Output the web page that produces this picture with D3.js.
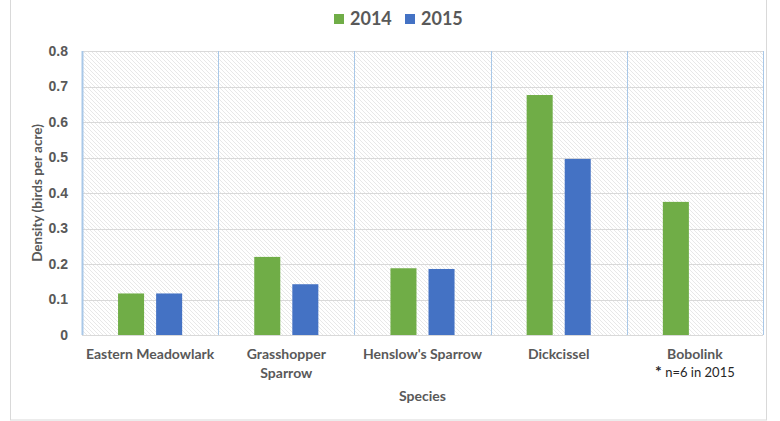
<!DOCTYPE html>
<html><head><meta charset="utf-8">
<script src="https://cdn.jsdelivr.net/npm/d3@7/dist/d3.min.js"></script>
<style>body{margin:0;background:#fff;}svg{display:block;font-family:Lato,"Open Sans",sans-serif;}</style>
</head><body>
<script>
const categories = ["Eastern Meadowlark", "Grasshopper Sparrow", "Henslow's Sparrow", "Dickcissel", "Bobolink"];
const categoryLines = [["Eastern Meadowlark"], ["Grasshopper", "Sparrow"], ["Henslow's Sparrow"], ["Dickcissel"], ["Bobolink"]];
const seriesNames = ["2014", "2015"];
const values2014 = [0.117, 0.220, 0.188, 0.676, 0.375];
const values2015 = [0.117, 0.143, 0.186, 0.496, null];
const yTicks = [0, 0.1, 0.2, 0.3, 0.4, 0.5, 0.6, 0.7, 0.8];
const colors = ["#70ad47", "#4472c4"];

const W = 780, H = 421;
const m = {left: 82, right: 17, top: 51, bottom: 86};
const svg = d3.select("body").append("svg").attr("width", W).attr("height", H);

const defs = svg.append("defs");
const pat = defs.append("pattern").attr("id","hatch").attr("patternUnits","userSpaceOnUse")
  .attr("width",4).attr("height",4);
pat.append("rect").attr("width",4).attr("height",4).attr("fill","#ffffff");
pat.append("path").attr("d","M-1,-1 L5,5 M-1,3 L1,5 M3,-1 L5,1").attr("stroke","#e8e8e8").attr("stroke-width",1);

// outer border
svg.append("rect").attr("x",10.5).attr("y",-1).attr("width",756).attr("height",421)
  .attr("fill","none").attr("stroke","#d9d9d9");

const x = d3.scaleBand().domain(categories).range([m.left, W - m.right]);
const y = d3.scaleLinear().domain([0, 0.8]).range([H - m.bottom, m.top]);
const xs = d3.scaleBand().domain(seriesNames).range([0, x.bandwidth()]).paddingInner(0.316).paddingOuter(0.947);

svg.append("rect").attr("x", m.left).attr("y", m.top).attr("width", W - m.right - m.left)
  .attr("height", H - m.bottom - m.top).attr("fill","url(#hatch)");

// horizontal grid
svg.append("g").selectAll("line").data(yTicks.filter(d=>d>0)).join("line")
  .attr("x1", m.left).attr("x2", W - m.right)
  .attr("y1", d=>Math.round(y(d))+0.5).attr("y2", d=>Math.round(y(d))+0.5)
  .attr("stroke","#d9d9d9").attr("stroke-width",1);

// vertical separators
const seps = categories.map(c=>x(c)).concat([W - m.right]);
svg.append("g").selectAll("line").data(seps).join("line")
  .attr("x1", d=>Math.round(d)+0.5).attr("x2", d=>Math.round(d)+0.5)
  .attr("y1", m.top).attr("y2", H - m.bottom)
  .attr("stroke","#a9c8e8").attr("stroke-width",(d,i)=> i===0 ? 2 : 1);

// bars
const series = [values2014, values2015];
series.forEach((vals, si) => {
  svg.append("g").selectAll("rect").data(categories.map((c,i)=>({c, v: vals[i]})).filter(d=>d.v!=null))
    .join("rect")
    .attr("x", d => x(d.c) + xs(seriesNames[si]))
    .attr("width", xs.bandwidth())
    .attr("y", d => y(d.v))
    .attr("height", d => y(0) - y(d.v))
    .attr("fill", colors[si]);
});

// baseline
svg.append("line").attr("x1", m.left).attr("x2", W - m.right)
  .attr("y1", Math.round(y(0))+0.5).attr("y2", Math.round(y(0))+0.5).attr("stroke","#d9d9d9");

// y axis
const yAxis = d3.axisLeft(y).tickValues(yTicks).tickFormat(d => d===0 ? "0" : d3.format(".1f")(d)).tickSize(0).tickPadding(14);
const ya = svg.append("g").attr("transform",`translate(${m.left},0)`).call(yAxis);
ya.select(".domain").remove();
ya.selectAll("text").attr("fill","#595959").attr("font-size","14px").attr("font-weight","bold");

// x labels
const xl = svg.append("g");
categories.forEach((c,i) => {
  const t = xl.append("text").attr("x", x(c) + x.bandwidth()/2).attr("y", 359)
    .attr("text-anchor","middle").attr("fill","#595959").attr("font-size","14px").attr("font-weight","bold");
  categoryLines[i].forEach((ln, j) => {
    t.append("tspan").attr("x", x(c) + x.bandwidth()/2).attr("dy", j===0?0:19).text(ln);
  });
});
// footnote
const fn = svg.append("text").attr("x", x("Bobolink") + x.bandwidth()/2).attr("y", 377)
  .attr("text-anchor","middle").attr("fill","#262626").attr("font-size","13px");
fn.append("tspan").attr("font-weight","bold").attr("font-size","16px").attr("dy",0).text("*");
fn.append("tspan").attr("dy",0).text(" n=6 in 2015");

// axis titles
svg.append("text").attr("x", (m.left + W - m.right)/2).attr("y", 401).attr("text-anchor","middle")
  .attr("fill","#595959").attr("font-size","14px").attr("font-weight","bold").text("Species");
svg.append("text").attr("transform",`translate(42,${(m.top + H - m.bottom)/2}) rotate(-90)`)
  .attr("text-anchor","middle").attr("fill","#595959").attr("font-size","13.5px").attr("font-weight","bold")
  .text("Density (birds per acre)");

// legend
const lg = svg.append("g");
const legX = [334, 405];
seriesNames.forEach((s,i)=>{
  lg.append("rect").attr("x", legX[i]).attr("y", 14).attr("width", 10).attr("height", 10).attr("fill", colors[i]);
  lg.append("text").attr("x", legX[i] + 16).attr("y", 25).attr("fill","#595959")
    .attr("font-size","18px").attr("font-weight","bold").text(s);
});
</script>
</body></html>
